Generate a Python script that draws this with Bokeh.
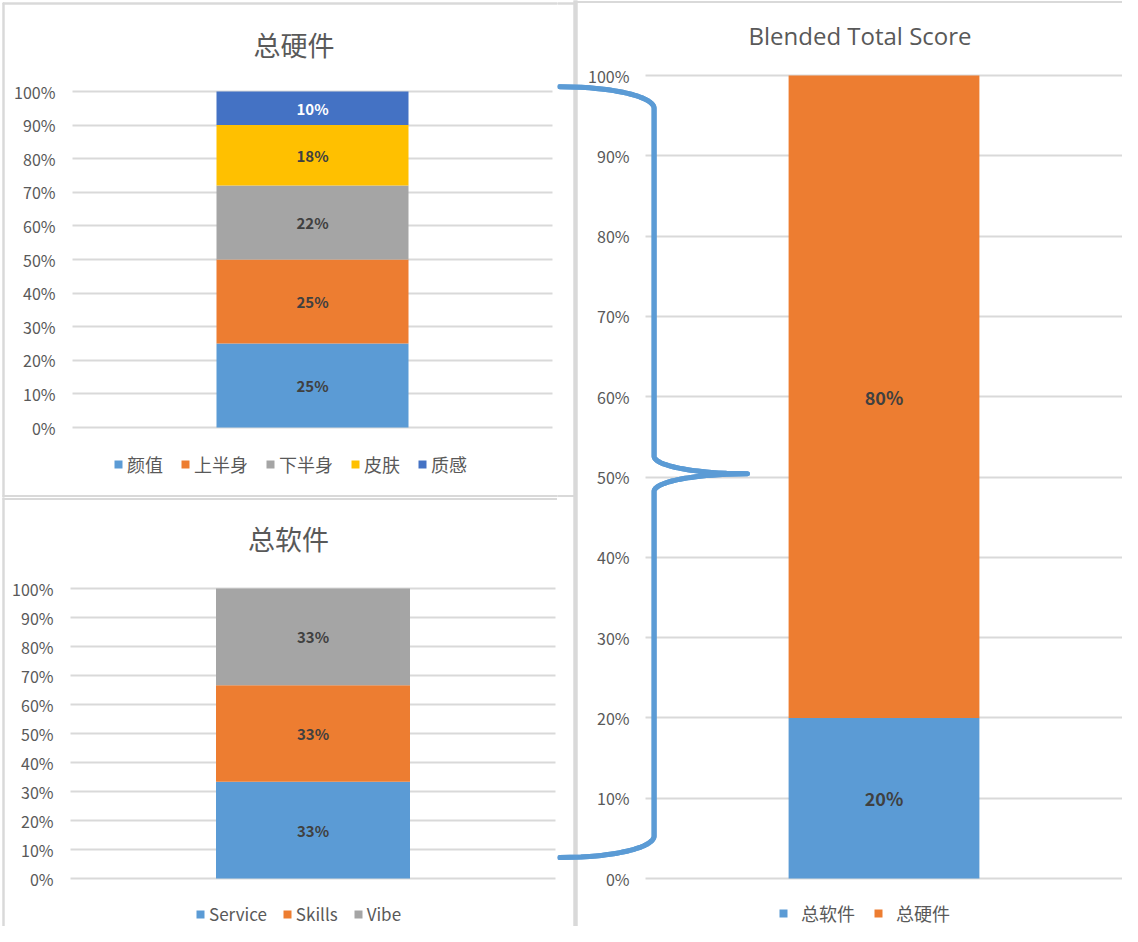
import numpy as np
from bokeh.plotting import figure
from bokeh.models import (ColumnDataSource, Range1d, FixedTicker,
                          NumeralTickFormatter, Legend, LegendItem, Band)
from bokeh.layouts import row, column
from bokeh.core.properties import value
from bokeh.embed import file_html
from bokeh.resources import INLINE

# ---------------- data ----------------
hw_title = "总硬件"
hw_parts = ["颜值", "上半身", "下半身", "皮肤", "质感"]
hw_values = [0.25, 0.25, 0.22, 0.18, 0.10]

sw_title = "总软件"
sw_parts = ["Service", "Skills", "Vibe"]
sw_values = [0.3333, 0.3333, 0.3334]

bl_title = "Blended Total Score"
bl_parts = ["总软件", "总硬件"]
bl_values = [0.20, 0.80]

y_ticks = [0.0, 0.1, 0.2, 0.3, 0.4, 0.5, 0.6, 0.7, 0.8, 0.9, 1.0]

# ---------------- style ----------------
BLUE, ORANGE, GRAY, GOLD, DBLUE = "#5B9BD5", "#ED7D31", "#A5A5A5", "#FFC000", "#4472C4"
TXT = "#595959"
LAB = "#404040"
GRID = "#D9D9D9"
BORDER = "#D9D9D9"
CJK = "Noto Sans CJK SC"


def overlay_path(p, base, vals, dim, color, width):
    src = ColumnDataSource(dict(b=list(base), v=list(vals)))
    band = Band(base="b", lower="v", upper="v", source=src, dimension=dim,
                level="overlay", fill_alpha=0, line_color=color, line_alpha=1.0,
                line_width=width, line_cap="round", line_join="round")
    p.add_layout(band)


def px_to_data(g, xs, ys):
    fl, ft, fr, fb = g["frame"]
    return ([(x - fl) / (fr - fl) for x in xs], [(fb - y) / (fb - ft) for y in ys])


def px_vline(p, g, x, y0, y1, color=BORDER, width=2):
    xs, ys = px_to_data(g, [x, x], [y1, y0])
    overlay_path(p, ys, xs, "width", color, width)


def px_hline(p, g, y, x0, x1, color=BORDER, width=2):
    xs, ys = px_to_data(g, [x0, x1], [y, y])
    overlay_path(p, xs, ys, "height", color, width)


def make_chart(title, parts, values, colors, label_colors, g):
    w, h = g["size"]
    fl, ft, fr, fb = g["frame"]
    # the data area 0..1 (x) and 0..1 (y) is mapped onto the plot region inside the canvas
    x_range = Range1d(-fl / (fr - fl), (w - fl) / (fr - fl))
    y_range = Range1d((fb - h) / (fb - ft), fb / (fb - ft))
    p = figure(width=w, height=h, x_range=x_range, y_range=y_range,
               x_axis_location=None, y_axis_location="left",
               output_backend="svg", toolbar_location=None,
               min_border_left=0, min_border_right=0,
               min_border_top=0, min_border_bottom=0)
    p.outline_line_color = None
    p.background_fill_color = "white"
    p.border_fill_color = "white"

    # y axis drawn at the left edge of the plot region
    ax = p.yaxis[0]
    ax.fixed_location = 0
    ax.ticker = FixedTicker(ticks=y_ticks)
    ax.formatter = NumeralTickFormatter(format="0%")
    ax.axis_line_color = None
    ax.major_tick_line_color = None
    ax.minor_tick_line_color = None
    ax.major_tick_out = 0
    ax.major_tick_in = 0
    ax.major_label_standoff = g["tick_standoff"]
    ax.major_label_text_font = CJK
    ax.major_label_text_font_size = "16px"
    ax.major_label_text_color = TXT

    grid = p.ygrid[0]
    grid.ticker = FixedTicker(ticks=y_ticks)
    grid.grid_line_color = GRID
    grid.grid_line_width = 2
    grid.cross_bounds = (0, 1)
    p.xgrid.grid_line_color = None

    # single category -> position like a categorical scale (index + 0.5)
    cats = [title]
    cat_pos = [i + 0.5 for i in range(len(cats))]
    src = ColumnDataSource({"x": cat_pos, **{n: [v] for n, v in zip(parts, values)}})
    rs = p.vbar_stack(parts, x="x", width=0.4, fill_color=colors,
                      line_color=None, source=src)

    vals = np.array(values)
    mids = np.cumsum(vals) - vals / 2
    lab = ColumnDataSource(dict(x=cat_pos * len(parts), y=list(mids),
                                t=[f"{v:.0%}" for v in values], c=label_colors))
    p.text(x="x", y="y", text="t", text_color="c", source=lab,
           text_font=value(CJK), text_font_style="bold",
           text_font_size=g["label_size"], text_align="center",
           text_baseline="middle")

    # chart title
    tx, ty = px_to_data(g, [g["title_xy"][0]], [g["title_xy"][1]])
    p.text(x=tx, y=ty, text=[title], text_font=value(g["title_font"]),
           text_font_size=g["title_size"], text_color=TXT,
           text_align="center", text_baseline="middle")

    legend = Legend(items=[LegendItem(label=n, renderers=[r]) for n, r in zip(parts, rs)],
                    location=g["legend_loc"], orientation="horizontal",
                    glyph_width=10, glyph_height=10,
                    label_standoff=g["legend_standoff"], spacing=g["legend_spacing"],
                    padding=0, margin=0, border_line_color=None,
                    background_fill_alpha=0,
                    label_text_font=CJK,
                    label_text_font_size=g["legend_size"],
                    label_text_color=TXT)
    p.add_layout(legend)
    return p


# geometry (canvas pixels): size, plot region (left, top, right, bottom)
g1 = dict(size=(557, 497), frame=(72, 91, 552, 427), title_xy=(293.5, 44),
          title_font=CJK, title_size="27px", label_size="15px", tick_standoff=17,
          legend_loc=(113, 20), legend_standoff=4, legend_spacing=17, legend_size="18px")
g2 = dict(size=(557, 429), frame=(70, 91, 555, 381), title_xy=(288, 41),
          title_font=CJK, title_size="27px", label_size="15px", tick_standoff=17,
          legend_loc=(195, 0), legend_standoff=4, legend_spacing=15, legend_size="17px")
g3 = dict(size=(565, 926), frame=(88, 75, 565, 878), title_xy=(302.5, 35),
          title_font="Open Sans", title_size="24px", label_size="18px", tick_standoff=16,
          legend_loc=(221, 0), legend_standoff=13, legend_spacing=18, legend_size="18px")

p1 = make_chart(hw_title, hw_parts, hw_values, [BLUE, ORANGE, GRAY, GOLD, DBLUE],
                [LAB, LAB, LAB, LAB, "#FFFFFF"], g1)
p2 = make_chart(sw_title, sw_parts, sw_values, [BLUE, ORANGE, GRAY],
                [LAB, LAB, LAB], g2)
p3 = make_chart(bl_title, bl_parts, bl_values, [BLUE, ORANGE], [LAB, LAB], g3)

# chart-area borders
px_vline(p1, g1, 3, 3, 497)
px_hline(p1, g1, 3, 3, 557)
px_hline(p1, g1, 495.5, 3, 557)
px_vline(p2, g2, 3, 0, 429)
px_hline(p2, g2, 1.5, 3, 557)
px_hline(p3, g3, 3, 0, 17)
px_hline(p3, g3, 495.5, 0, 17)
px_vline(p3, g3, 18, 0, 926, width=4)
px_hline(p3, g3, 1.5, 20, 565)

# curly brace spanning the blended bar (right-chart data units)
y_top, y_bot, y_tip = 0.986, 0.026, 0.504
x_stem, x_tip, x_end = 0.018, 0.214, -0.18
r_end, r_mid = 0.027, 0.022
n = 40
u = np.linspace(0, 1, n)
ys, xs = [], []
yc = y_bot + r_end
yy = yc - u[::-1] * r_end
ys += list(yy); xs += list(x_end + (x_stem - x_end) * np.sqrt(np.clip(1 - ((yc - yy) / r_end) ** 2, 0, 1)))
yj = y_tip - r_mid
yy = yj + u * r_mid
ys += list(yy); xs += list(x_tip - (x_tip - x_stem) * np.sqrt(np.clip(1 - ((yy - yj) / r_mid) ** 2, 0, 1)))
yj = y_tip + r_mid
yy = yj - u[::-1] * r_mid
ys += list(yy); xs += list(x_tip - (x_tip - x_stem) * np.sqrt(np.clip(1 - ((yj - yy) / r_mid) ** 2, 0, 1)))
yc = y_top - r_end
yy = yc + u * r_end
ys += list(yy); xs += list(x_end + (x_stem - x_end) * np.sqrt(np.clip(1 - ((yy - yc) / r_end) ** 2, 0, 1)))
overlay_path(p3, ys, xs, "width", BLUE, 5)

layout = row(column(p1, p2), p3)
open("out.html", "w").write(file_html(layout, INLINE))
